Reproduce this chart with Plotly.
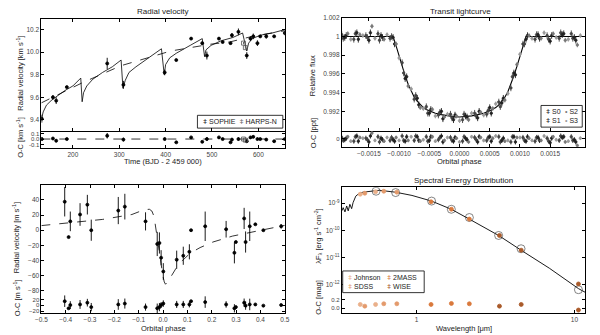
import plotly.graph_objects as go

# ---------------- data ----------------
# top-left: radial velocity vs time
rv_time = [133, 157, 164, 187, 274, 309, 398, 423, 455, 479, 489, 515, 523, 540, 543, 557, 575, 583, 589, 598, 604, 617, 634, 657]
rv_val = [9.41, 9.60, 9.57, 9.69, 9.90, 9.71, 9.82, 9.93, 10.12, 10.08, 9.97, 10.12, 10.09, 10.08, 10.15, 10.18, 9.97, 10.12, 10.14, 10.08, 10.14, 10.14, 10.14, 10.17]
rv_err = [0.035, 0.02, 0.03, 0.01, 0.05, 0.035, 0.025, 0.01, 0.01, 0.015, 0.035, 0.01, 0.01, 0.01, 0.02, 0.03, 0.03, 0.02, 0.025, 0.025, 0.01, 0.02, 0.01, 0.02]
rv_res = [0.0, 0.01, -0.03, 0.0, 0.06, -0.01, 0.0, -0.06, 0.03, -0.05, 0.0, 0.03, 0.0, -0.06, -0.01, 0.0, -0.04, 0.03, 0.04, 0.0, 0.0, -0.01, -0.04, 0.0]
harps_time = [568, 572]
harps_val = [10.08, 10.04]
harps_err = [0.01, 0.01]
harps_res = [0.0, -0.02]
rv_model_t = [132, 136, 143, 153, 166, 183, 200, 217, 220, 223, 230, 243, 264, 285, 304, 308, 313, 321, 336, 364, 391,
              397, 400, 409, 423, 453, 479, 484, 487, 498, 519, 545, 566, 575, 579, 587, 604, 630, 657]
rv_model_v = [9.40, 9.47, 9.53, 9.57, 9.61, 9.66, 9.70, 9.77, 9.56, 9.64, 9.70, 9.76, 9.82, 9.87, 9.93, 9.68, 9.75, 9.82, 9.87, 9.95, 10.03,
              9.80, 9.89, 9.95, 9.99, 10.06, 10.12, 9.96, 10.02, 10.06, 10.10, 10.13, 10.17, 10.01, 10.08, 10.12, 10.15, 10.17, 10.20]
trend_t = [132, 221, 304, 411, 496, 538, 587, 657]
trend_v = [9.55, 9.73, 9.88, 10.01, 10.07, 10.09, 10.14, 10.19]

# top-right: transit light curve
lc_model_phase = [-0.002, -0.0011, -0.00105, -0.001, -0.00095, -0.0009, -0.00085, -0.0008, -0.00075, -0.0007, -0.00065, -0.0006,
                  -0.00055, -0.0005, -0.0004, -0.0003, -0.0002, -0.0001, 0.0, 0.0001, 0.0002, 0.0003, 0.0004, 0.0005, 0.00055,
                  0.0006, 0.00065, 0.0007, 0.00075, 0.0008, 0.00085, 0.0009, 0.00095, 0.001, 0.00105, 0.0011, 0.0021]
lc_model_flux = [1.0, 1.0, 0.999, 0.9979, 0.9968, 0.9958, 0.9949, 0.9941, 0.9935, 0.9931, 0.9927, 0.9924,
                 0.9922, 0.99205, 0.9918, 0.99165, 0.99152, 0.99143, 0.9914, 0.99143, 0.99152, 0.99165, 0.9918, 0.99205, 0.9922,
                 0.9924, 0.9927, 0.9931, 0.9935, 0.9941, 0.9949, 0.9958, 0.9968, 0.9979, 0.999, 1.0, 1.0]
s0_phase = [-0.00195, -0.00175, -0.00155, -0.00135, -0.00115, -0.00095, -0.00075, -0.00055, -0.00035, -0.00015,
            0.00005, 0.00025, 0.00045, 0.00065, 0.00085, 0.00105, 0.00125, 0.00145, 0.00165, 0.00185,
            -0.001925, -0.001725, -0.001525, -0.001325, -0.001125, -0.000925, -0.000725, -0.000525, -0.000325, -0.000125,
            0.000075, 0.000275, 0.000475, 0.000675, 0.000875, 0.001075, 0.001275, 0.001475, 0.001675, 0.001875]
s0_flux = [1.0002, 0.9997, 1.0001, 1.0003, 0.9998, 0.9972, 0.9933, 0.9925, 0.9916, 0.9917,
           0.9911, 0.9918, 0.9917, 0.9930, 0.9945, 0.9992, 0.9997, 1.0001, 0.9998, 1.0003,
           0.9998, 1.0003, 0.9999, 0.9996, 1.0000, 0.9961, 0.9937, 0.9918, 0.9919, 0.9913,
           0.9917, 0.9915, 0.9921, 0.9925, 0.9957, 0.9992, 1.0002, 0.9997, 1.0004, 0.9998]
s0_res = [0.2, -0.3, 0.1, 0.3, -0.2, 0.4, -0.2, 0.3, -0.1, 0.2, -0.3, 0.2, -0.2, 0.3, -0.4, 0.2, -0.3, 0.1, -0.2, 0.3,
          -0.2, 0.3, -0.1, -0.4, 0.2, -0.2, 0.4, -0.3, 0.2, -0.2, 0.3, -0.1, 0.2, -0.4, 0.3, -0.2, 0.2, -0.3, 0.4, -0.2]
s1_phase = [-0.0019, -0.0017, -0.0015, -0.0013, -0.0011, -0.0009, -0.0007, -0.0005, -0.0003, -0.0001,
            0.0001, 0.0003, 0.0005, 0.0007, 0.0009, 0.0011, 0.0013, 0.0015, 0.0017, 0.0019,
            -0.001875, -0.001675, -0.001475, -0.001275, -0.001075, -0.000875, -0.000675, -0.000475, -0.000275, -0.000075,
            0.000125, 0.000325, 0.000525, 0.000725, 0.000925, 0.001125, 0.001325, 0.001525, 0.001725, 0.001925]
s1_flux = [0.9999, 1.0004, 0.9996, 1.0001, 0.9999, 0.9955, 0.9934, 0.9918, 0.9920, 0.9911,
           0.9915, 0.9913, 0.9924, 0.9929, 0.9961, 0.9997, 1.0002, 0.9995, 1.0002, 0.9999,
           1.0001, 0.9997, 1.0004, 0.9999, 0.9992, 0.9957, 0.9927, 0.9922, 0.9912, 0.9916,
           0.9914, 0.9920, 0.9918, 0.9934, 0.9959, 1.0001, 0.9998, 1.0001, 1.0003, 0.9996]
s1_res = [-0.1, 0.4, -0.4, 0.1, -0.1, -0.3, 0.3, -0.2, 0.4, -0.3, 0.1, -0.4, 0.3, -0.2, 0.3, -0.3, 0.2, -0.5, 0.2, -0.1,
          0.1, -0.3, 0.4, -0.1, -0.3, 0.3, -0.2, 0.3, -0.4, 0.2, -0.1, 0.3, -0.3, 0.1, -0.4, 0.3, -0.2, 0.1, 0.3, -0.4]
s2_phase = [-0.00185, -0.00165, -0.00145, -0.00125, -0.00105, -0.00085, -0.00065, -0.00045, -0.00025, -0.00005,
            0.00015, 0.00035, 0.00055, 0.00075, 0.00095, 0.00115, 0.00135, 0.00155, 0.00175, 0.00195]
s2_flux = [1.0003, 1.0002, 1.0011, 0.9997, 0.9992, 0.9947, 0.9924, 0.9922, 0.9914, 0.9915,
           0.9911, 0.9919, 0.9923, 0.9932, 0.9970, 1.0001, 0.9998, 1.0003, 0.9996, 0.9991]
s2_res = [0.3, 0.2, 0.8, -0.3, 0.2, -0.2, -0.3, 0.3, -0.2, 0.1, -0.4, 0.2, 0.1, -0.3, 0.2, 0.1, -0.2, 0.3, -0.4, -0.9]
s3_phase = [-0.0018, -0.0016, -0.0014, -0.0012, -0.001, -0.0008, -0.0006, -0.0004, -0.0002, 0.0,
            0.0002, 0.0004, 0.0006, 0.0008, 0.001, 0.0012, 0.0014, 0.0016, 0.0018, 0.002]
s3_flux = [0.9997, 1.0001, 0.9998, 1.0002, 0.9977, 0.9944, 0.9923, 0.9915, 0.9917, 0.9910,
           0.9918, 0.9916, 0.9928, 0.9939, 0.9981, 0.9998, 1.0004, 0.9999, 0.9997, 1.0001]
s3_res = [-0.3, 0.1, -0.2, 0.2, -0.2, 0.3, -0.1, -0.3, 0.2, -0.4, 0.3, -0.2, 0.4, -0.2, 0.2, -0.2, 0.4, -0.1, -0.3, 0.1]

# bottom-left: phase-folded radial velocity
ph_phase = [-0.404, -0.388, -0.381, -0.341, -0.311, -0.295, -0.184, -0.157, -0.072, -0.024, -0.015, -0.008, 0.001, 0.056,
            0.083, 0.108, 0.115, 0.173, 0.259, 0.293, 0.299, 0.333, 0.339, 0.356, 0.379, 0.412, 0.485]
ph_rv = [37.7, -9.1, 11.7, 20.8, 33.8, 0.0, 26.0, 31.2, 11.7, -18.2, -16.9, -36.4, -54.6, -39.0,
         -33.8, -28.6, 0.0, 5.2, 1.3, -29.9, -15.6, 15.6, -15.6, 5.2, 7.8, 0.0, 5.2]
ph_err = [19.5, 0, 13, 15, 13, 14, 18, 17, 12, 16, 14, 10, 11, 12, 12, 10, 0, 19.5, 11, 14, 0, 14, 14, 19.5, 0, 0, 3]
ph_res = [14, -10, 1, 3, 9, -6, 3, 6, -6, -10, -6, 1, 6, 3, 3, 3, 14, 11, 3, -10, -6, 9, -1, 3, 3, -1, 1]
ph_model_phase = [-0.5, -0.408, -0.248, -0.128, -0.076, -0.056, -0.046, -0.037, -0.028, -0.021, -0.011, -0.001, 0.005, 0.010,
                  0.019, 0.032, 0.052, 0.079, 0.112, 0.152, 0.205, 0.285, 0.379, 0.5]
ph_model_rv = [6.1, 9.1, 14.3, 20.8, 27.3, 27.7, 25.4, 18.2, -1.3, -20.8, -42.5, -59.8, -68.5, -71.5,
               -68.5, -62.0, -51.1, -40.3, -30.3, -23.0, -15.6, -7.8, -1.3, 6.4]

# bottom-right: spectral energy distribution
sed_model_wl = [0.336, 0.343, 0.352, 0.361, 0.369, 0.378, 0.388, 0.396, 0.412, 0.432, 0.457, 0.503, 0.581, 0.737,
                0.935, 1.245, 1.657, 2.156, 3.31, 4.59, 6.93, 10.6, 11.7]
sed_model_f = [5.14e-10, 6.76e-10, 4.73e-10, 7.80e-10, 5.14e-10, 8.97e-10, 6.22e-10, 1.03e-9, 1.79e-9, 2.24e-9, 2.49e-9,
               2.71e-9, 2.94e-9, 2.49e-9, 1.90e-9, 1.18e-9, 5.93e-10, 2.58e-10, 6.46e-11, 1.86e-11, 4.07e-12, 7.24e-13, 5.3e-13]
synth_wl = [0.554, 0.737, 1.245, 1.66, 2.16, 3.31, 4.59, 10.6]
synth_f = [2.71e-9, 2.42e-9, 1.18e-9, 5.9e-10, 2.94e-10, 6.46e-11, 2.1e-11, 6.6e-13]
johnson_wl = [0.44, 0.55]
johnson_f = [2.11e-9, 2.60e-9]
johnson_res = [0.089, 0.089]
sdss_wl = [0.47, 0.62, 0.75]
sdss_f = [2.29e-9, 2.71e-9, 2.51e-9]
sdss_res = [0.051, 0.104, 0.104]
tmass_wl = [1.235, 1.662, 2.159]
tmass_f = [1.11e-9, 5.92e-10, 2.57e-10]
tmass_res = [0.089, 0.111, 0.104]
wise_wl = [3.35, 4.60, 10.6]
wise_f = [6.46e-11, 1.86e-11, 1.07e-12]
wise_res = [0.051, 0.089, -0.037]

# ---------------- figure ----------------
W, H = 600, 335
FONT = "Liberation Sans, Arial, sans-serif"
C_JOHNSON, C_SDSS, C_2MASS, C_WISE = "#eab08a", "#e39a6c", "#d9793c", "#a95a2a"


def fx(p):
    return p / W


def fy(p):
    return 1 - p / H


fig = go.Figure()


def line(x, y, xa, ya, dash="solid", width=0.8, color="black"):
    fig.add_trace(go.Scatter(x=x, y=y, mode="lines", xaxis=xa, yaxis=ya,
                             line=dict(color=color, width=width, dash=dash), hoverinfo="skip"))


def points(x, y, xa, ya, err=None, color="black", size=3, symbol="circle"):
    fig.add_trace(go.Scatter(
        x=x, y=y, mode="markers", xaxis=xa, yaxis=ya,
        marker=dict(color=color, size=size, symbol=symbol, line=dict(width=0.8, color=color)),
        error_y=dict(type="data", array=err, visible=err is not None, color=color, thickness=0.9, width=0),
    ))


# panel A: RV vs time
line(rv_model_t, rv_model_v, "x", "y")
line(trend_t, trend_v, "x", "y", dash="dash")
points(rv_time, rv_val, "x", "y", rv_err)
points(harps_time, harps_val, "x", "y", harps_err, color="#555", size=4, symbol="square-open")
points(rv_time, rv_res, "x2", "y2", rv_err)
points(harps_time, harps_res, "x2", "y2", harps_err, color="#555", size=4, symbol="square-open")

# panel B: transit
line(lc_model_phase, lc_model_flux, "x3", "y3", width=1.1)
for ph, fl, rs, col, er in [(s0_phase, s0_flux, s0_res, "#444", 0.00035), (s1_phase, s1_flux, s1_res, "#222", 0.00035),
                            (s2_phase, s2_flux, s2_res, "#777", 0.00025), (s3_phase, s3_flux, s3_res, "#999", 0.00025)]:
    points(ph, fl, "x3", "y3", [er] * len(ph), color=col, size=2.5)
    points(ph, rs, "x4", "y4", [er * 1000] * len(ph), color=col, size=2.5)

# panel C: RV vs phase
line(ph_model_phase, ph_model_rv, "x5", "y5", dash="dash")
points(ph_phase, ph_rv, "x5", "y5", ph_err)
points(ph_phase, ph_res, "x6", "y6", ph_err)

# panel D: SED
line(sed_model_wl, sed_model_f, "x7", "y7", width=0.9)
fig.add_trace(go.Scatter(x=synth_wl, y=synth_f, mode="markers", xaxis="x7", yaxis="y7",
                         marker=dict(size=8, symbol="circle-open", color="#333", line=dict(width=0.6))))
for wl, f, rs, col in [(johnson_wl, johnson_f, johnson_res, C_JOHNSON), (sdss_wl, sdss_f, sdss_res, C_SDSS),
                       (tmass_wl, tmass_f, tmass_res, C_2MASS), (wise_wl, wise_f, wise_res, C_WISE)]:
    points(wl, f, "x7", "y7", color=col, size=4)
    points(wl, rs, "x8", "y8", color=col, size=4)

# ---------------- axes ----------------
tick = dict(showgrid=False, zeroline=False, ticks="inside", ticklen=3, tickwidth=0.6, tickcolor="black",
            tickfont=dict(size=6.5, color="#444", family=FONT), linecolor="black", linewidth=0.8)
small = dict(size=6, color="#444", family=FONT)

xa_left, xa_right = [fx(36), fx(284)], [fx(342), fx(590)]
layout_axes = {
    # A
    "xaxis": dict(tick, domain=xa_left, anchor="y", range=[132, 657], showticklabels=False, showline=True, mirror="ticks",
                  tickvals=[200, 300, 400, 500, 600]),
    "yaxis": dict(tick, domain=[fy(129), fy(15)], anchor="x", range=[9.30, 10.296], showline=True, mirror="ticks",
                  tickvals=[9.4, 9.6, 9.8, 10.0, 10.2], tickformat=".1f"),
    "xaxis2": dict(tick, domain=xa_left, anchor="y2", range=[132, 657], showline=True,
                   tickvals=[200, 300, 400, 500, 600]),
    "yaxis2": dict(tick, domain=[fy(146), fy(129)], anchor="x2", range=[-0.16, 0.145], showline=True, mirror="ticks",
                   tickvals=[-0.1, 0, 0.1], ticktext=["-0.1", "0.0", "0.1"], tickfont=small),
    # B
    "xaxis3": dict(tick, domain=xa_right, anchor="y3", range=[-0.00195, 0.00208], showticklabels=False, showline=True,
                   mirror="ticks", tickvals=[-0.0015, -0.001, -0.0005, 0, 0.0005, 0.001, 0.0015]),
    "yaxis3": dict(tick, domain=[fy(129), fy(14)], anchor="x3", range=[0.98989, 1.0020], showline=True, mirror="ticks",
                   tickvals=[0.992, 0.994, 0.996, 0.998, 1.0, 1.002],
                   ticktext=["0.992", "0.994", "0.996", "0.998", "1", "1.002"]),
    "xaxis4": dict(tick, domain=xa_right, anchor="y4", range=[-0.00195, 0.00208], showline=True,
                   tickvals=[-0.0015, -0.001, -0.0005, 0, 0.0005, 0.001, 0.0015], tickformat=".4f"),
    "yaxis4": dict(tick, domain=[fy(145), fy(129)], anchor="x4", range=[-1.07, 1.07], showline=True, mirror="ticks",
                   tickvals=[0], ticktext=["0"], tickfont=small),
    # C
    "xaxis5": dict(tick, domain=xa_left, anchor="y5", range=[-0.5, 0.5], showticklabels=False, showline=True,
                   side="top", dtick=0.1),
    "yaxis5": dict(tick, domain=[fy(293), fy(184)], anchor="x5", range=[-82.6, 59.5], showline=True, mirror="ticks",
                   tickvals=[-80, -60, -40, -20, 0, 20, 40, 60]),
    "xaxis6": dict(tick, domain=xa_left, anchor="y6", range=[-0.5, 0.5], showline=True, dtick=0.1, tickformat=".1f"),
    "yaxis6": dict(tick, domain=[fy(314), fy(293)], anchor="x6", range=[-27, 43], showline=True, mirror="ticks",
                   tickvals=[-20, 0, 20], tickfont=small),
    # D
    "xaxis7": dict(tick, domain=xa_right, anchor="y7", type="log", range=[-0.474, 1.068], showticklabels=False,
                   showline=True, side="top", tickvals=[1, 10]),
    "yaxis7": dict(tick, domain=[fy(295), fy(186)], anchor="x7", type="log", range=[-12.36, -8.42], showline=True,
                   mirror="ticks", tickvals=[1e-12, 1e-11, 1e-10, 1e-9],
                   ticktext=["10<sup>-12</sup>", "10<sup>-11</sup>", "10<sup>-10</sup>", "10<sup>-9</sup>"]),
    "xaxis8": dict(tick, domain=xa_right, anchor="y8", type="log", range=[-0.474, 1.068], showline=True,
                   tickvals=[1, 10], ticktext=["1", "10"]),
    "yaxis8": dict(tick, domain=[fy(314), fy(295)], anchor="x8", range=[-0.111, 0.311], showline=True, mirror="ticks",
                   tickvals=[0, 0.2], ticktext=["0.0", "0.2"], tickfont=small),
}

# ---------------- text ----------------
ann = []


def text(t, x, y, size=8, angle=0, xanchor="center"):
    ann.append(dict(text=t, x=fx(x), y=fy(y), xref="paper", yref="paper", showarrow=False, textangle=angle,
                    xanchor=xanchor, yanchor="middle", font=dict(size=size, color="#222", family=FONT), align="left"))


text("Radial velocity", 160, 8)
text("Transit lightcurve", 463, 8)
text("Spectral Energy Distribution", 466, 179)
text("Time (BJD - 2 459 000)", 160, 160, size=7.5)
text("Orbital phase", 462, 160, size=7.5)
text("Orbital phase", 160, 329, size=7.5)
text("Wavelength [μm]", 467, 329, size=7.5)
text("Radial velocity [km s<sup>-1</sup>]", 14, 70, size=7.5, angle=-90)
text("O-C [km s<sup>-1</sup>]", 14, 135, size=7.5, angle=-90)
text("Relative flux", 313, 73, size=7.5, angle=-90)
text("O-C [ppt]", 313, 131, size=7.5, angle=-90)
text("Radial velocity [m s<sup>-1</sup>]", 11, 237, size=7.5, angle=-90)
text("O-C [m s<sup>-1</sup>]", 11, 298, size=7.5, angle=-90)
text("λF<sub>λ</sub> [erg s<sup>-1</sup> cm<sup>-2</sup>]", 318, 236, size=7.5, angle=-90)
text("O-C [mag]", 318, 298, size=7.5, angle=-90)

# legends drawn as boxed text
legend_boxes = [(195, 113, 282, 126), (545, 103, 587, 125), (343, 271, 426, 293)]
shapes = [dict(type="rect", xref="paper", yref="paper", x0=fx(a), y0=fy(d), x1=fx(c), y1=fy(b),
               line=dict(color="black", width=0.8), fillcolor="white", layer="above") for a, b, c, d in legend_boxes]
text("ǂ SOPHIE  <span style='color:#666'>ǂ</span> HARPS-N", 199, 119.5, size=7, xanchor="left")
text("ǂ S0<br>ǂ S1", 548, 114, size=7, xanchor="left")
text("<span style='color:#777'>•</span> S2<br><span style='color:#999'>•</span> S3", 567, 114, size=7, xanchor="left")
text(f"<span style='color:{C_JOHNSON}'>ǂ</span> Johnson<br><span style='color:{C_SDSS}'>ǂ</span> SDSS", 346, 282, size=7,
     xanchor="left")
text(f"<span style='color:{C_2MASS}'>ǂ</span> 2MASS<br><span style='color:{C_WISE}'>ǂ</span> WISE", 386, 282, size=7,
     xanchor="left")

# zero line in the top-left residual panel
shapes.append(dict(type="line", xref="x2 domain", x0=0, x1=1, yref="y2", y0=0, y1=0,
                   line=dict(color="black", width=0.8, dash="dash"), layer="below"))

fig.update_layout(
    width=W, height=H, margin=dict(l=0, r=0, t=0, b=0),
    paper_bgcolor="white", plot_bgcolor="white", showlegend=False,
    font=dict(family=FONT, size=7, color="#222"),
    annotations=ann, shapes=shapes,
    **layout_axes,
)
# the page body has a default 8px margin; drop it so the 600x335 figure fills the window
fig.write_html("out.html", config={"displayModeBar": False},
               post_script="document.body.style.margin='0';")
